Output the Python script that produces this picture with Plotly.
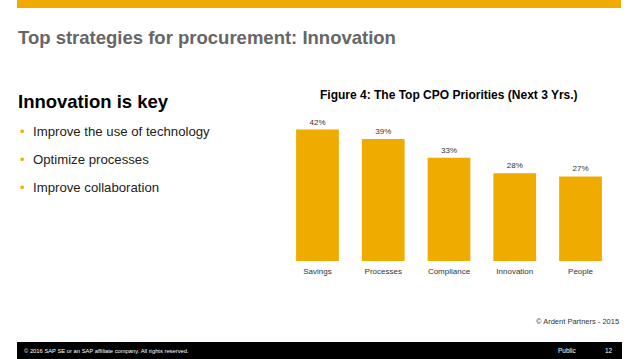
import plotly.graph_objects as go

W, H = 638, 359

categories = ["Savings", "Processes", "Compliance", "Innovation", "People"]
values = [42, 39, 33, 28, 27]
value_labels = ["42%", "39%", "33%", "28%", "27%"]
bullets = ["Improve the use of technology", "Optimize processes", "Improve collaboration"]

GOLD = "#F0AB00"
FONT = "Liberation Sans, Arial, sans-serif"

def px(x):
    return x / W

def py(y):
    return 1 - y / H

fig = go.Figure()
fig.add_trace(go.Bar(
    x=categories, y=values, text=value_labels, textposition="outside",
    textfont=dict(size=8, color="#333333", family=FONT),
    marker=dict(color=GOLD, line=dict(width=0)),
    cliponaxis=False, hoverinfo="skip",
))

x0, x1 = 284.6, 613.4
ybot, ytop = 261, 120
scale = 3.13  # px per percent
fig.update_layout(
    width=W, height=H, margin=dict(l=0, r=0, t=0, b=0),
    paper_bgcolor="white", plot_bgcolor="white",
    showlegend=False, bargap=0.35,
    font=dict(family=FONT),
    xaxis=dict(domain=[px(x0), px(x1)], showline=False, showgrid=False, zeroline=False,
               ticks="", ticklabelstandoff=4,
               tickfont=dict(size=8, color="#333333", family=FONT)),
    yaxis=dict(domain=[py(ybot), py(ytop)], range=[0, (ybot - ytop) / scale],
               visible=False),
    shapes=[
        dict(type="rect", xref="paper", yref="paper", x0=px(17), x1=px(621),
             y0=py(8), y1=py(0), fillcolor=GOLD, line=dict(width=0), layer="below"),
        dict(type="rect", xref="paper", yref="paper", x0=px(17), x1=px(622),
             y0=py(359), y1=py(342), fillcolor="black", line=dict(width=0), layer="below"),
    ],
)

ann = []
ann.append(dict(text="<b>Top strategies for procurement: Innovation</b>", x=px(16), y=py(38),
                xanchor="left", yanchor="middle", font=dict(size=18.5, color="#666666")))
ann.append(dict(text="<b>Innovation is key</b>", x=px(16), y=py(102),
                xanchor="left", yanchor="middle", font=dict(size=18.5, color="#000000")))
for i, b in enumerate(bullets):
    yy = 131 + 28 * i
    ann.append(dict(text="•", x=px(18), y=py(yy), xanchor="left", yanchor="middle",
                    font=dict(size=13, color=GOLD)))
    ann.append(dict(text=b, x=px(31), y=py(yy), xanchor="left", yanchor="middle",
                    font=dict(size=13.2, color="#222222")))
ann.append(dict(text="<b>Figure 4: The Top CPO Priorities (Next 3 Yrs.)</b>", x=px(449), y=py(95),
                xanchor="center", yanchor="middle", font=dict(size=12, color="#000000")))
ann.append(dict(text="© Ardent Partners - 2015", x=px(621), y=py(321),
                xanchor="right", yanchor="middle", font=dict(size=7.5, color="#333333")))
ann.append(dict(text="© 2016 SAP SE or an SAP affiliate company. All rights reserved.", x=px(22), y=py(350.5),
                xanchor="left", yanchor="middle", font=dict(size=5.8, color="#ffffff")))
ann.append(dict(text="Public", x=px(556), y=py(350),
                xanchor="left", yanchor="middle", font=dict(size=6.5, color="#ffffff")))
ann.append(dict(text="12", x=px(615), y=py(350),
                xanchor="right", yanchor="middle", font=dict(size=6.5, color="#ffffff")))
for a in ann:
    a.update(xref="paper", yref="paper", showarrow=False)
    a["font"].setdefault("family", FONT)
fig.update_layout(annotations=ann)

fig.write_html(
    "out.html",
    config={"displayModeBar": False},
    post_script="document.body.style.margin='0';document.body.style.padding='0';"
                "document.body.style.overflow='hidden';",
)
